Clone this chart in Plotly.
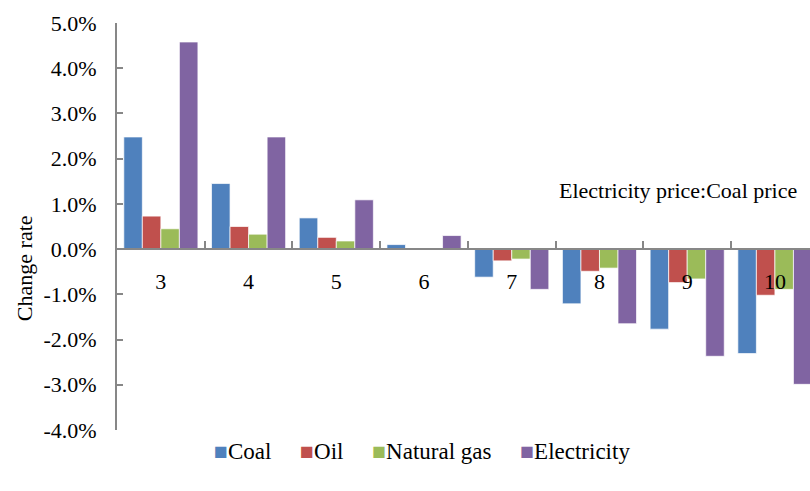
import plotly.graph_objects as go

# Electricity-to-coal price ratio (category axis)
ratios = ["3", "4", "5", "6", "7", "8", "9", "10"]

# Change rate of each energy demand, in percent
coal = [2.48, 1.45, 0.69, 0.10, -0.62, -1.21, -1.77, -2.31]
oil = [0.73, 0.50, 0.26, 0.0, -0.26, -0.49, -0.74, -1.02]
natural_gas = [0.45, 0.33, 0.18, 0.0, -0.22, -0.42, -0.66, -0.89]
electricity = [4.58, 2.48, 1.09, 0.30, -0.89, -1.65, -2.37, -2.99]

series_names = ["Coal", "Oil", "Natural gas", "Electricity"]
series_colors = ["#4F81BD", "#C0504D", "#9BBB59", "#8064A2"]

y_tick_values = [5, 4, 3, 2, 1, 0, -1, -2, -3, -4]
y_tick_labels = ["5.0%", "4.0%", "3.0%", "2.0%", "1.0%", "0.0%",
                 "-1.0%", "-2.0%", "-3.0%", "-4.0%"]

FONT = "Liberation Serif"
AXIS_GREY = "#878787"

fig = go.Figure()
for name, values, color in zip(series_names,
                               [coal, oil, natural_gas, electricity],
                               series_colors):
    fig.add_trace(go.Bar(
        x=ratios, y=values, name=name, showlegend=False,
        marker=dict(color=color, line=dict(color="rgba(255,255,255,0.7)", width=1)),
    ))

fig.update_layout(
    width=810, height=491,
    margin=dict(l=117, r=0, t=23, b=61),
    paper_bgcolor="white", plot_bgcolor="white",
    barmode="group", bargap=0.155, bargroupgap=0,
    font=dict(family=FONT, size=22, color="black"),
    xaxis=dict(
        type="category", range=[-0.5, 7.4],
        anchor="free", position=4 / 9,
        showline=True, linecolor=AXIS_GREY, linewidth=2,
        ticks="inside", ticklen=7, tickcolor=AXIS_GREY, tickwidth=2,
        tickson="boundaries", ticklabelstandoff=12,
        tickfont=dict(family=FONT, size=22, color="black"),
        showgrid=False, zeroline=False,
    ),
    yaxis=dict(
        range=[-4, 5],
        tickvals=y_tick_values, ticktext=y_tick_labels,
        showline=True, linecolor=AXIS_GREY, linewidth=2,
        ticks="inside", ticklen=6, tickcolor=AXIS_GREY, tickwidth=2,
        ticklabelstandoff=14,
        tickfont=dict(family=FONT, size=22, color="black"),
        showgrid=False, zeroline=False,
    ),
)

# Legend row: coloured square followed by the series name
legend_items = [
    f'<span style="color:{color}">■</span>{name}'
    for name, color in zip(series_names, series_colors)
]
legend_gap = "\u00a0" * 5
fig.add_annotation(
    text=legend_gap.join(legend_items),
    xref="paper", yref="paper", x=0.137, y=-0.054,
    xanchor="left", yanchor="middle", showarrow=False,
    font=dict(family=FONT, size=23, color="black"),
)

# Vertical axis title
fig.add_annotation(
    text="Change rate", textangle=-90,
    xref="paper", yref="paper", x=-0.134, y=0.398,
    xanchor="center", yanchor="middle", showarrow=False,
    font=dict(family=FONT, size=22, color="black"),
)

# Category axis caption
fig.add_annotation(
    text="Electricity price:Coal price",
    xref="paper", yref="y", x=0.635, y=1.3,
    xanchor="left", yanchor="middle", showarrow=False,
    font=dict(family=FONT, size=22, color="black"),
)

fig.write_html("out.html")
